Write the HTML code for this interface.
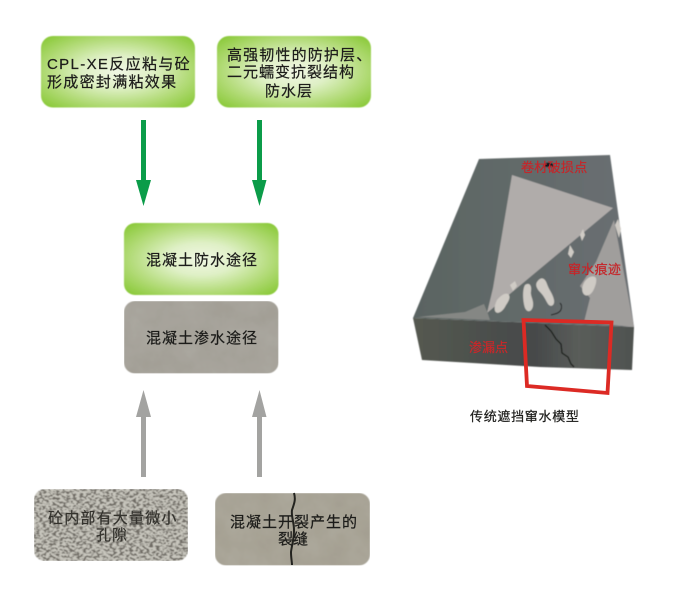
<!DOCTYPE html>
<html><head><meta charset="utf-8">
<style>
html,body{margin:0;padding:0;background:#fff;width:700px;height:600px;overflow:hidden}
svg{display:block}
text{font-family:"Liberation Sans","Noto Sans CJK SC",sans-serif;fill:#1c1c1a;stroke:#1c1c1a;stroke-width:.22}
</style></head><body>
<svg width="700" height="600" viewBox="0 0 700 600" xmlns="http://www.w3.org/2000/svg">
<defs>
<radialGradient id="g" cx="50%" cy="50%" r="66%">
<stop offset="0" stop-color="#f0f7e4"/><stop offset=".34" stop-color="#dff0c6"/><stop offset=".72" stop-color="#b0da74"/><stop offset="1" stop-color="#8cca3c"/>
</radialGradient>
<filter id="soft" x="-5%" y="-5%" width="110%" height="110%"><feGaussianBlur stdDeviation=".5"/></filter>
<filter id="tex1" x="0" y="0" width="100%" height="100%">
<feTurbulence type="fractalNoise" baseFrequency=".04" numOctaves="4" seed="3"/>
<feColorMatrix values="0 0 0 0 .80  0 0 0 0 .78  0 0 0 0 .74  .8 0 0 0 -.15"/>
<feComposite in2="SourceGraphic" operator="in"/>
<feBlend in2="SourceGraphic" mode="multiply"/>
<feGaussianBlur stdDeviation=".4"/>
</filter>
<filter id="tex2" x="0" y="0" width="100%" height="100%">
<feTurbulence type="fractalNoise" baseFrequency=".3 .48" numOctaves="3" seed="7" result="n"/>
<feColorMatrix in="n" values="0 0 0 0 .16  0 0 0 0 .15  0 0 0 0 .13  7 0 0 0 -3.2" result="d"/>
<feComposite in="d" in2="SourceGraphic" operator="in" result="c"/>
<feMerge><feMergeNode in="SourceGraphic"/><feMergeNode in="c"/></feMerge>
<feGaussianBlur stdDeviation=".4"/>
</filter>
<linearGradient id="top" x1="0" y1="0" x2="1" y2="0"><stop offset="0" stop-color="#5a6462"/><stop offset=".45" stop-color="#626a69"/><stop offset="1" stop-color="#6a6f73"/></linearGradient>
<linearGradient id="front" x1="0" y1="0" x2="1" y2="0"><stop offset="0" stop-color="#555951"/><stop offset=".55" stop-color="#46494a"/><stop offset=".75" stop-color="#5a5d5a"/><stop offset="1" stop-color="#4f5250"/></linearGradient>
</defs>

<!-- top green boxes -->
<rect x="41" y="36" width="154" height="71.500" rx="12" fill="url(#g)" filter="url(#soft)"/>
<rect x="217" y="36" width="154" height="71.500" rx="12" fill="url(#g)" filter="url(#soft)"/>
<text x="47" y="69" font-size="15" letter-spacing="1.350">CPL-XE反应粘与砼</text>
<text x="47" y="87" font-size="15" letter-spacing="1.300">形成密封满粘效果</text>
<text x="227" y="60" font-size="15" letter-spacing="1.150">高强韧性的防护层、</text>
<text x="227" y="77" font-size="15" letter-spacing="1">二元蠕变抗裂结构</text>
<text x="265" y="96" font-size="15" letter-spacing="1">防水层</text>

<!-- green arrows -->
<path d="M141 120H146V180H151L143.500 206L136 180H141Z" fill="#0b9c49"/>
<path d="M257 120H262V180H266.500L259.500 206L252 180H257Z" fill="#0b9c49"/>

<!-- middle boxes -->
<rect x="124" y="223" width="154.500" height="72" rx="11" fill="url(#g)" filter="url(#soft)"/>
<rect x="124" y="301" width="154.500" height="72.500" rx="11" fill="#aaa79f" filter="url(#tex1)"/>
<text x="146" y="265" font-size="15" letter-spacing="1">混凝土防水途径</text>
<text x="146" y="343" font-size="15" letter-spacing="1">混凝土渗水途径</text>

<!-- gray arrows -->
<path d="M141 477V417H136L143.500 390L151 417H146V477Z" fill="#a3a3a1"/>
<path d="M257 477V417H252L259.500 390L266.500 417H262V477Z" fill="#a3a3a1"/>

<!-- bottom boxes -->
<rect x="34" y="489" width="154" height="72" rx="11" fill="#c8c6bd" filter="url(#tex2)"/>
<rect x="215" y="493" width="155" height="72.500" rx="11" fill="#aca89b" filter="url(#tex1)"/>
<path d="M294 493C296 500 294 504 292 510C291 516 294 522 294 530C294 540 292 544 291 552C291 558 292 562 292 565" fill="none" stroke="#23231f" stroke-width="2"/>
<text x="48" y="523" font-size="15" letter-spacing="1.200" style="fill:#33322d;stroke:#33322d">砼内部有大量微小</text>
<text x="96" y="540" font-size="15" letter-spacing="1" style="fill:#33322d;stroke:#33322d">孔隙</text>
<text x="230" y="527" font-size="15" letter-spacing="1">混凝土开裂产生的</text>
<text x="278" y="544" font-size="15" letter-spacing="0">裂缝</text>

<!-- model -->
<g filter="url(#soft)">
<polygon points="479,159 610,155 634,327 413,318" fill="url(#top)"/>
<polygon points="413,318 634,327 632,370 540,367 422,360" fill="url(#front)"/>
<polygon points="512,175 613,208 487,313 493,288" fill="#b0acaa"/>
<polygon points="614,220 634,327 584,322 590,298 580,286 596,262" fill="#a09e9c"/>
<polygon points="418,317 465,312 484,304 488,314 490,320" fill="#858784"/>
<path d="M544 164c3-2 6-2 9 0l1 3h-11z" fill="#15171a"/>
<g fill="#cfcbc5">
<path d="M497 300c5-6 10-8 12-5 2 4-2 8-4 12-3 5-8 8-10 4-1-3 0-7 2-11z"/>
<path d="M525 285c4-3 7 0 6 6-1 5 3 9 2 15-1 6-6 7-8 2-2-6-3-18 0-23z"/>
<path d="M537 282c4-6 8-4 10 2 2 6 6 10 7 16 1 5-3 8-6 4-3-5-4-8-8-12-3-3-5-7-3-10z"/>
<path d="M585 281c4-5 9-6 11-3 1 4-1 9-3 13-3 5-8 6-10 2-2-4 0-9 2-12z"/>
<path d="M570 245l-2 9 3 4 3-6z"/>
<path d="M580 235l3-6 2 6-3 6z"/>
<path d="M615 225l3-6 3 10-2 9z"/>
<path d="M510 285l5-4 2 5-4 5z"/>
</g>
<path d="M560 303c3 3 1 8-1 9-2 2-5 2-8 3" fill="none" stroke="#1a1a1a" stroke-width="1"/>
<path d="M545 325l6 6 5 8 5 5 1 9 6 4 3 7 3 3" fill="none" stroke="#191a18" stroke-width="1.300"/>
</g>
<polygon points="523.500,320 611.500,322.500 607.500,393 527,386" fill="none" stroke="#dc2a24" stroke-width="3.800"/>

<text x="521" y="172" font-size="13" letter-spacing=".3" style="fill:#c5262a;stroke:#c5262a">卷材破损点</text>
<text x="568" y="274" font-size="13" letter-spacing=".3" style="fill:#c5262a;stroke:#c5262a">窜水痕迹</text>
<text x="469" y="352" font-size="13" style="fill:#c8282a;stroke:#c8282a">渗漏点</text>
<text x="470" y="421" font-size="13" letter-spacing=".7">传统遮挡窜水模型</text>
</svg>
</body></html>
